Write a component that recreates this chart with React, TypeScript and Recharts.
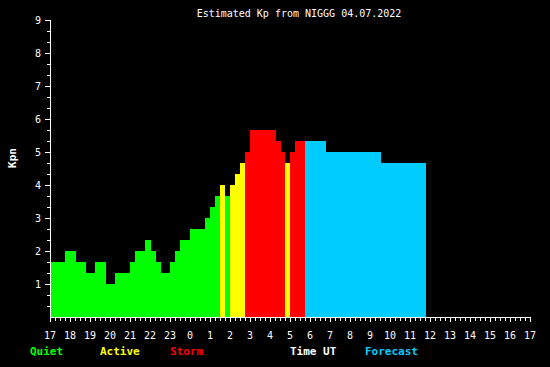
import { ComposedChart, Area, XAxis, YAxis } from 'recharts'

// hours after 17 UT where the level changes (last one = end of data)
const edges = [0, 0.75, 1.3, 1.8, 2.25, 2.8, 3.25, 4, 4.25, 4.75, 5.05, 5.3, 5.55, 6, 6.25, 6.5, 7, 7.75, 8, 8.25,
  8.5, 8.75, 9, 9.25, 9.5, 9.75, 10, 11.3, 11.55, 11.75, 12, 12.25, 12.75, 13.8, 16.55, 18.8]
const kp = [1.67, 2, 1.67, 1.33, 1.67, 1, 1.33, 1.67, 2, 2.33, 2, 1.67, 1.33, 1.67, 2, 2.33, 2.67, 3, 3.33, 3.67,
  4, 3.67, 4, 4.33, 4.67, 5, 5.67, 5.33, 5, 4.67, 5, 5.33, 5.33, 5, 4.67]
// Q quiet, A active, S storm, F forecast
const kind = ['Q', 'Q', 'Q', 'Q', 'Q', 'Q', 'Q', 'Q', 'Q', 'Q', 'Q', 'Q', 'Q', 'Q', 'Q', 'Q', 'Q', 'Q', 'Q', 'Q',
  'A', 'Q', 'A', 'A', 'A', 'S', 'S', 'S', 'S', 'A', 'S', 'S', 'F', 'F', 'F']
const hourLabels = ['17', '18', '19', '20', '21', '22', '23', '0', '1', '2', '3', '4', '5', '6', '7', '8', '9', '10',
  '11', '12', '13', '14', '15', '16', '17']

const COLORS: Record<string, string> = { Q: '#00FF00', A: '#FFFF00', S: '#FF0000', F: '#00CCFF' }
const KEYS: Record<string, string> = { Q: 'quiet', A: 'active', S: 'storm', F: 'forecast' }
const FONT = '"DejaVu Sans Mono", monospace'

const data = edges.map((t, i) => {
  const row: Record<string, number> = { t, quiet: 0, active: 0, storm: 0, forecast: 0 }
  if (i < kp.length) row[KEYS[kind[i]]] = kp[i]
  return row
})

const xTicks = Array.from({ length: 97 }, (_, i) => i / 4)
const yTicks = Array.from({ length: 27 }, (_, i) => (i + 1) / 3)

function XTick(props: any) {
  const { x, y, payload } = props
  const v = payload.value as number
  const major = Math.abs(v - Math.round(v)) < 1e-6
  return (
    <g>
      <line x1={x} x2={x} y1={y} y2={y + (major ? 5 : 4)} stroke="#fff" />
      {major && (
        <text x={x} y={y + 22} textAnchor="middle" fill="#fff" fontSize={10} fontFamily={FONT}>
          {hourLabels[Math.round(v)]}
        </text>
      )}
    </g>
  )
}

function YTick(props: any) {
  const { x, y, payload } = props
  const v = payload.value as number
  const major = Math.abs(v - Math.round(v)) < 1e-6
  return (
    <g>
      <line x1={x - (major ? 5 : 3)} x2={x} y1={y} y2={y} stroke="#fff" />
      {major && (
        <text x={x - 9} y={y + 4} textAnchor="end" fill="#fff" fontSize={10} fontFamily={FONT}>
          {Math.round(v)}
        </text>
      )}
    </g>
  )
}

const legend = [
  { label: 'Quiet', x: 30, color: '#00FF00' },
  { label: 'Active', x: 100, color: '#FFFF00' },
  { label: 'Storm', x: 170, color: '#FF0000' },
  { label: 'Time UT', x: 290, color: '#FFFFFF' },
  { label: 'Forecast', x: 365, color: '#00CCFF' },
]

export default function App() {
  return (
    <div style={{ position: 'relative', width: 550, height: 367, background: '#000' }}>
      <style>{`body{margin:0} .kp svg line, .kp svg path { shape-rendering: crispEdges }`}</style>
      <div className="kp">
        <ComposedChart width={550} height={367} data={data} margin={{ top: 20, right: 20, left: 0, bottom: 20 }}>
          <XAxis
            type="number"
            dataKey="t"
            domain={[0, 24]}
            ticks={xTicks}
            interval={0}
            tick={<XTick />}
            tickLine={false}
            tickSize={0}
            tickMargin={0}
            height={30}
            axisLine={{ stroke: '#fff' }}
            allowDataOverflow
          />
          <YAxis
            type="number"
            domain={[0, 9]}
            ticks={yTicks}
            interval={0}
            tick={<YTick />}
            tickLine={false}
            tickSize={0}
            tickMargin={0}
            width={50}
            axisLine={{ stroke: '#fff' }}
            allowDataOverflow
          />
          {(['Q', 'A', 'S', 'F'] as const).map((k) => (
            <Area
              key={k}
              type="stepAfter"
              dataKey={KEYS[k]}
              stroke="none"
              fill={COLORS[k]}
              fillOpacity={1}
              dot={false}
              activeDot={false}
              isAnimationActive={false}
            />
          ))}
        </ComposedChart>
      </div>
      <svg width={550} height={367} style={{ position: 'absolute', left: 0, top: 0, pointerEvents: 'none' }}>
        <text x={299} y={17} textAnchor="middle" fill="#fff" fontSize={10} fontFamily={FONT}>
          Estimated Kp from NIGGG 04.07.2022
        </text>
        <text x={16} y={158} textAnchor="middle" fill="#fff" fontSize={11} fontWeight="bold" fontFamily={FONT}
          transform="rotate(-90 16 158)">
          Kpn
        </text>
        {legend.map((l) => (
          <text key={l.label} x={l.x} y={355} fill={l.color} fontSize={11} fontWeight="bold" fontFamily={FONT}>
            {l.label}
          </text>
        ))}
      </svg>
    </div>
  )
}
